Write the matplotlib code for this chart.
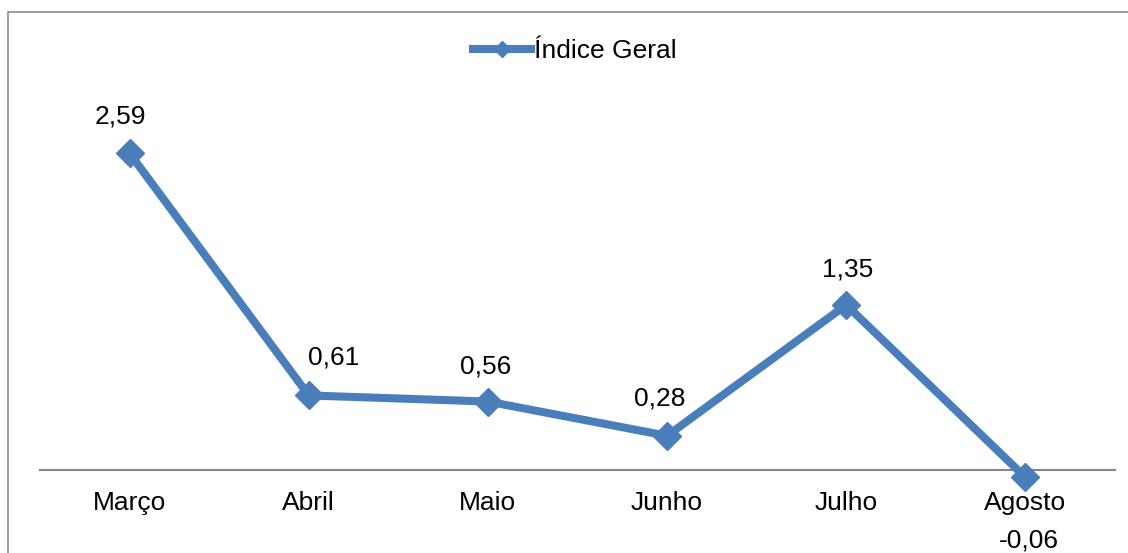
import matplotlib
matplotlib.use("Agg")
import matplotlib.pyplot as plt
from matplotlib.patches import Rectangle

# data
meses = ["Março", "Abril", "Maio", "Junho", "Julho", "Agosto"]
indice_geral = [2.59, 0.61, 0.56, 0.28, 1.35, -0.06]
serie_nome = "Índice Geral"

azul = "#4A7EBB"
cinza = "#868686"

plt.rcParams["font.family"] = ["Liberation Sans", "DejaVu Sans"]

W, H = 1128, 553
fig = plt.figure(figsize=(W / 100, H / 100), dpi=100)

# plot area in pixels: x 40..1115, y 40..500
ax = fig.add_axes([40 / W, (H - 500) / H, (1115 - 40) / W, 460 / H])
ax.set_xlim(-0.5, len(meses) - 0.5)
ax.set_ylim(-0.245, 3.516)

x = list(range(len(meses)))
ax.plot(x, indice_geral, color=azul, lw=5.8, marker="D", ms=14,
        solid_joinstyle="miter", label=serie_nome, zorder=3)

# labels: nudges in pixels (dx, dy) to match the original placement
nudges = [(-9, 37), (25, 38), (-2, 35), (-7, 37), (1, 35), (3, -63)]
for xi, v, (dx, dy) in zip(x, indice_geral, nudges):
    txt = f"{v:.2f}".replace(".", ",")
    ax.annotate(txt, (xi, v), xytext=(dx * 0.72, dy * 0.72),
                textcoords="offset points", ha="center", va="center",
                fontsize=19, color="black", annotation_clip=False)

for s in ["top", "left", "right"]:
    ax.spines[s].set_visible(False)
ax.spines["bottom"].set_position(("data", 0))
ax.spines["bottom"].set_color(cinza)
ax.spines["bottom"].set_linewidth(1.5)
ax.set_yticks([])
ax.set_xticks(x)
ax.set_xticklabels(meses, fontsize=19)
ax.tick_params(axis="x", length=0, pad=15)

fig.legend(loc="center", bbox_to_anchor=(575 / W, 1 - 51 / H),
           frameon=False, fontsize=19, handlelength=2.2, handletextpad=0.1,
           markerscale=0.6)

# outer chart border (runs off right and bottom edges)
fig.patches.append(Rectangle((8 / W, -0.1), 2, (H - 12) / H + 0.1,
                             transform=fig.transFigure, fill=False,
                             edgecolor="#8c8c8c", lw=1.2))

fig.savefig("out.png", dpi=100)
